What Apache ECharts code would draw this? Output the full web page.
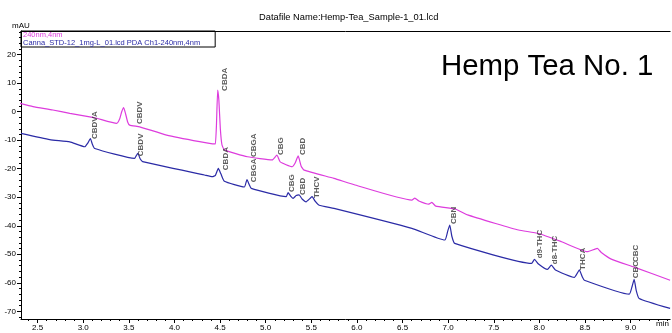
<!DOCTYPE html>
<html>
<head>
<meta charset="utf-8">
<script src="https://cdn.jsdelivr.net/npm/echarts@6/dist/echarts.min.js"></script>
<style>
  html, body { margin: 0; padding: 0; background: #fff; }
  #chart { width: 672px; height: 333px; }
</style>
</head>
<body>
<div id="chart"></div>
<script>
// sample (pink) and standard (blue) traces, retention time in min / absorbance in mAU
const sampleName = '240nm,4nm'
const standardName = 'Canna_STD-12_1mg-L_01.lcd PDA Ch1-240nm,4nm'

const sampleTime = [2.307, 2.449, 2.667, 2.853, 3.072, 3.148, 3.367, 3.399, 3.421, 3.443, 3.465, 3.487, 3.509, 3.619, 3.914, 4.276, 4.438, 4.449, 4.460, 4.474, 4.487, 4.503, 4.520, 4.547, 4.801, 5.072, 5.123, 5.159, 5.290, 5.323, 5.356, 5.389, 5.422, 5.749, 5.979, 6.602, 6.635, 6.679, 6.788, 6.821, 6.864, 7.083, 7.214, 7.520, 7.772, 7.991, 8.243, 8.526, 8.635, 8.679, 8.788, 9.039, 9.433]
const sampleMAU = [2.9, 1.8, 0.6, -0.6, -1.8, -2.3, -4.1, -2.6, -0.1, 1.4, -0.8, -3.6, -4.7, -5.3, -8.2, -10.5, -11.3, -11.3, -5.0, 7.6, 4.0, -6.0, -11.5, -13.4, -15.8, -16.9, -15.2, -17.6, -19.3, -18.0, -15.5, -19.1, -20.5, -23.4, -25.7, -31.0, -30.3, -31.3, -32.4, -31.8, -33.1, -34.2, -36.2, -39.2, -41.5, -42.7, -45.6, -49.1, -47.9, -49.4, -51.7, -54.5, -59.1]

const standardTime = [2.318, 2.634, 2.853, 3.017, 3.050, 3.079, 3.099, 3.126, 3.563, 3.580, 3.599, 3.624, 3.651, 4.329, 4.416, 4.449, 4.481, 4.509, 4.547, 4.766, 4.795, 4.820, 4.842, 5.224, 5.246, 5.279, 5.301, 5.334, 5.366, 5.399, 5.443, 5.487, 5.509, 5.542, 5.586, 5.749, 6.602, 6.963, 6.996, 7.018, 7.040, 7.072, 7.914, 7.946, 7.990, 8.088, 8.132, 8.176, 8.383, 8.416, 8.438, 8.471, 8.493, 8.985, 9.017, 9.039, 9.061, 9.094, 9.433]
const standardMAU = [-7.6, -9.8, -10.6, -12.3, -11.0, -9.4, -11.3, -12.9, -16.4, -15.5, -14.6, -16.5, -17.5, -22.2, -22.8, -22.3, -19.9, -21.8, -24.4, -26.4, -23.8, -25.6, -26.9, -29.8, -28.4, -29.8, -30.4, -29.4, -29.2, -30.6, -31.6, -30.4, -29.8, -31.4, -32.8, -33.9, -40.9, -45.0, -41.8, -39.8, -43.6, -46.2, -53.2, -51.8, -53.4, -55.3, -53.8, -55.5, -58.1, -56.6, -55.5, -58.0, -59.1, -64.0, -61.2, -58.8, -62.6, -65.5, -69.0]

// peak names, printed upward starting just above each peak
const peakNames = ['CBDVA', 'CBDV', 'CBDV', 'CBDA', 'CBDA', 'CBGA', 'CBGA', 'CBG', 'CBD', 'CBG', 'CBD', 'THCV', 'CBN', 'd9-THC', 'd8-THC', 'THCA', 'CBC', 'CBC']
const peakTime = [3.126, 3.619, 3.630, 4.549, 4.558, 4.865, 4.865, 5.170, 5.410, 5.290, 5.410, 5.563, 7.061, 8.001, 8.165, 8.471, 9.061, 9.061]
const peakMAU = [-9.6, -4.3, -15.6, 7.3, -20.5, -15.9, -24.7, -15.2, -15.2, -28.2, -29.2, -30.3, -39.4, -51.4, -53.5, -55.5, -58.4, -52.7]

const xTicks = [2.5, 3.0, 3.5, 4.0, 4.5, 5.0, 5.5, 6.0, 6.5, 7.0, 7.5, 8.0, 8.5, 9.0]
const yTicks = [-70, -60, -50, -40, -30, -20, -10, 0, 10, 20]
const xMinorTicks = []
for (let i = 24; i <= 94; i++) xMinorTicks.push(i / 10)
const yMinorTicks = []
for (let v = -72; v <= 28; v += 2) yMinorTicks.push(v)

const X_MIN = 2.318, X_MAX = 9.433
const Y_MIN = -72.7, Y_MAX = 28.3
const FONT = "'Liberation Sans', Arial, sans-serif"

const chart = echarts.init(document.getElementById('chart'))

const hiddenAxis = {
  axisLabel: { show: false },
  splitLine: { show: false },
}

chart.setOption({
  animation: false,
  backgroundColor: '#fff',
  textStyle: { fontFamily: FONT },
  title: [
    {
      text: 'Datafile Name:Hemp-Tea_Sample-1_01.lcd',
      left: 254, top: 8,
      textStyle: { fontSize: 9.3, fontWeight: 'normal', color: '#000', fontFamily: FONT },
    },
    {
      text: 'Hemp Tea No. 1',
      left: 436, top: 47,
      textStyle: { fontSize: 29.4, fontWeight: 'normal', color: '#000', fontFamily: FONT },
    },
  ],
  legend: {
    left: 21, top: 31,
    orient: 'vertical',
    itemWidth: 0, itemHeight: 0, itemGap: 0,
    padding: [0, 15, 0, 0],
    borderColor: '#000', borderWidth: 1,
    selectedMode: false,
    data: [
      { name: sampleName, textStyle: { color: '#dd3cdd' } },
      { name: standardName, textStyle: { color: '#2b2ba6' } },
    ],
    textStyle: { fontSize: 7.5, lineHeight: 8, padding: [0, 0, 0, -4], fontFamily: FONT },
  },
  grid: { left: 21, right: 0, top: 31, bottom: 14 },
  xAxis: [
    {
      type: 'value', min: X_MIN, max: X_MAX, position: 'bottom',
      name: '{u|min}', nameLocation: 'end', nameGap: -14,
      nameTextStyle: { rich: { u: { fontSize: 8, color: '#000', padding: [9, 0, 0, 0] } } },
      axisLine: { onZero: false, lineStyle: { color: '#000', width: 1 } },
      axisTick: { show: true, customValues: xTicks, length: 4, lineStyle: { color: '#000' } },
      axisLabel: { customValues: xTicks, fontSize: 8, color: '#000', margin: 5, formatter: v => v.toFixed(1) },
      splitLine: { show: false },
    },
    {
      type: 'value', min: X_MIN, max: X_MAX, position: 'bottom',
      axisLine: { show: false, onZero: false },
      axisTick: { show: true, customValues: xMinorTicks, length: 2, lineStyle: { color: '#000' } },
      ...hiddenAxis,
    },
    {
      type: 'value', min: X_MIN, max: X_MAX, position: 'top',
      axisLine: { onZero: false, lineStyle: { color: '#000', width: 1 } },
      axisTick: { show: false },
      ...hiddenAxis,
    },
  ],
  yAxis: [
    {
      type: 'value', min: Y_MIN, max: Y_MAX, position: 'left',
      name: 'mAU', nameLocation: 'end', nameGap: 1,
      nameTextStyle: { fontSize: 8, color: '#000', align: 'center' },
      axisLine: { show: true, onZero: false, lineStyle: { color: '#000', width: 1 } },
      axisTick: { show: true, customValues: yTicks, length: 4, lineStyle: { color: '#000' } },
      axisLabel: { customValues: yTicks, fontSize: 8, color: '#000', margin: 5 },
      splitLine: { show: false },
    },
    {
      type: 'value', min: Y_MIN, max: Y_MAX, position: 'left',
      axisLine: { show: false, onZero: false },
      axisTick: { show: true, customValues: yMinorTicks, length: 2, lineStyle: { color: '#000' } },
      ...hiddenAxis,
    },
  ],
  series: [
    {
      name: sampleName,
      type: 'line',
      data: sampleTime.map((t, i) => [t, sampleMAU[i]]),
      showSymbol: false,
      smooth: 0.15,
      lineStyle: { color: '#dd3cdd', width: 1.2 },
      itemStyle: { color: '#dd3cdd' },
      z: 3,
    },
    {
      name: standardName,
      type: 'line',
      data: standardTime.map((t, i) => [t, standardMAU[i]]),
      showSymbol: false,
      smooth: 0.15,
      lineStyle: { color: '#2b2ba6', width: 1.2 },
      itemStyle: { color: '#2b2ba6' },
      z: 3,
    },
    {
      name: 'peaks',
      type: 'scatter',
      data: peakTime.map((t, i) => ({ value: [t, peakMAU[i]], name: peakNames[i] })),
      symbolSize: 1,
      itemStyle: { color: 'rgba(0,0,0,0)' },
      silent: true,
      z: 4,
      label: {
        show: true,
        position: 'inside',
        rotate: 90,
        align: 'left',
        verticalAlign: 'middle',
        formatter: p => p.name,
        fontSize: 8,
        fontWeight: 'bold',
        color: '#333',
        fontFamily: FONT,
      },
    },
  ],
})
</script>
</body>
</html>
